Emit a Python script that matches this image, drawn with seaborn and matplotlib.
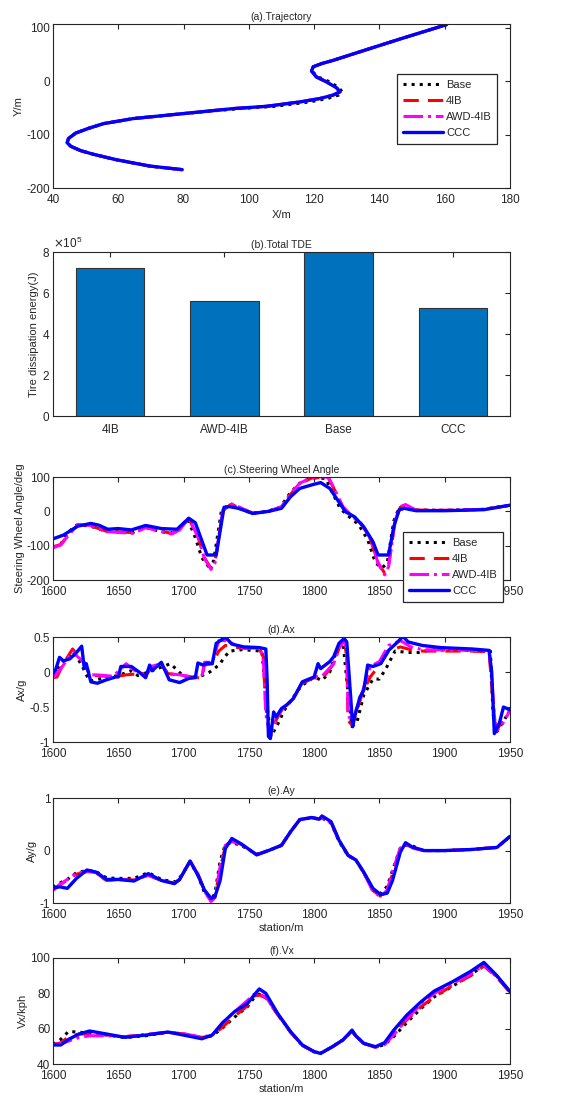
import matplotlib
matplotlib.use('Agg')
import matplotlib.pyplot as plt
import seaborn as sns

sns.set_style('white')
plt.rcParams['font.family'] = ['Liberation Sans', 'DejaVu Sans']
plt.rcParams['text.color'] = '#262626'
plt.rcParams['axes.labelcolor'] = '#262626'
plt.rcParams['axes.unicode_minus'] = False

# ---------------- data ----------------
names = ['Base', '4IB', 'AWD-4IB', 'CCC']

# (a) trajectory
traj_y = [-165.6, -158.8, -147, -137, -130, -122, -115, -107, -97, -88, -79.4, -70, -63.8,
          -57.5, -51.3, -47, -38.8, -32.5, -26, -20, -12.5, -1.3, 8, 19, 27, 33, 39,
          59, 79, 106]
traj_x_ccc = [79.6, 69.6, 59.4, 52.5, 48.5, 45.5, 44.3, 44.8, 47, 51, 55.5, 64.5, 74.7,
              85, 95.2, 105.4, 115.6, 121.7, 125.8, 127.9, 126.9, 123.8, 120.7, 119.2,
              119.7, 122.3, 125.8, 136, 146.3, 160.6]
traj_x_base = [79.6, 69.6, 59.4, 52.5, 48.5, 45.5, 44.3, 44.8, 47, 51, 55.5, 64.5, 74.7,
               85.5, 97, 108, 118.5, 124, 127.5, 128.6, 127.6, 124.8, 121.2, 119.3,
               119.8, 122.3, 125.8, 136, 146.3, 160.6]

# (b) total tire dissipation energy
tde_cases = ['4IB', 'AWD-4IB', 'Base', 'CCC']
tde_values = [7.2e5, 5.6e5, 8.0e5, 5.25e5]

# (c) steering wheel angle
swa_s_ccc = [1600, 1608, 1619, 1629, 1635, 1642, 1650, 1660, 1671, 1683, 1695, 1704, 1709,
             1718, 1725, 1731, 1735, 1742, 1753, 1765, 1775, 1782, 1789, 1798, 1805, 1812,
             1818, 1824, 1831, 1838, 1845, 1849, 1857, 1861, 1865, 1869, 1878, 1900, 1930, 1950]
swa_ccc = [-80, -69, -43, -35, -40, -52, -50, -54, -41, -50, -52, -20, -33,
           -127, -127, 12, 14, 9, -6, 0, 9, 43, 67, 77, 84, 67,
           33, -1, -16, -45, -88, -127, -127, -45, 4, 9, 2, 2, 5, 18]
swa_s_awd = [1600, 1606, 1613, 1619, 1629, 1641, 1653, 1662, 1671, 1683, 1691, 1697, 1704,
             1711, 1716, 1721, 1724, 1730, 1736, 1742, 1753, 1765, 1775, 1782, 1789, 1798,
             1805, 1811, 1816, 1822, 1829, 1836, 1843, 1849, 1854, 1857, 1862, 1866, 1870,
             1878, 1900, 1930, 1950]
swa_awd = [-106, -98, -64, -38, -41, -59, -62, -64, -47, -59, -66, -54, -20,
           -74, -137, -169, -151, 4, 23, 14, -6, 0, 14, 52, 82, 99,
           101, 99, 62, 14, -14, -35, -79, -151, -185, -161, -25, 14, 20,
           4, 3, 6, 18]
swa_4ib = [-104, -96, -62, -40, -42, -58, -60, -62, -46, -58, -64, -52, -21,
           -72, -135, -166, -150, 2, 20, 13, -5, 0, 13, 50, 80, 97,
           99, 97, 60, 12, -15, -36, -80, -150, -180, -158, -28, 12, 17,
           4, 3, 6, 18]
swa_s_base = [1600, 1606, 1612, 1618, 1628, 1640, 1652, 1661, 1670, 1682, 1690, 1696, 1703,
              1709, 1714, 1719, 1723, 1729, 1735, 1741, 1752, 1764, 1774, 1781, 1788, 1797,
              1804, 1809, 1814, 1820, 1827, 1834, 1841, 1847, 1852, 1856, 1861, 1865, 1869,
              1877, 1900, 1930, 1950]
swa_base = [-104, -95, -60, -40, -42, -57, -60, -62, -46, -58, -64, -52, -22,
            -76, -135, -160, -145, 2, 20, 12, -5, 0, 12, 50, 80, 97,
            98, 95, 55, 8, -16, -38, -82, -150, -165, -150, -28, 10, 16,
            4, 3, 6, 18]

# (d) longitudinal acceleration
ax_s_ccc = [1600, 1602, 1605, 1608, 1613, 1618, 1622, 1624, 1625.5, 1629, 1634, 1641, 1648,
            1650, 1652, 1660, 1666, 1671, 1674, 1676, 1683, 1689, 1697, 1704, 1709, 1711,
            1715, 1718, 1722, 1725, 1732, 1737, 1746, 1758, 1763, 1764, 1765, 1766.5, 1769,
            1771, 1775, 1779, 1784, 1791, 1800, 1803, 1805, 1812, 1815, 1819, 1823, 1825,
            1828, 1829.5, 1831, 1835, 1838, 1841, 1845, 1851, 1857, 1864, 1868, 1872, 1883,
            1897, 1921, 1934, 1936, 1938, 1942, 1945, 1950]
ax_ccc = [-0.02, 0.03, 0.21, 0.16, 0.19, 0.28, 0.37, 0.05, 0.12, -0.14, -0.16, -0.11, -0.07,
          -0.07, 0.08, 0.08, 0.0, -0.08, 0.1, 0.02, 0.14, -0.11, -0.15, -0.09, -0.08, 0.13,
          0.1, 0.13, 0.12, 0.41, 0.5, 0.4, 0.36, 0.35, 0.33, -0.11, -0.92, -0.95, -0.57,
          -0.64, -0.52, -0.47, -0.38, -0.14, -0.07, 0.12, 0.05, 0.15, 0.22, 0.41, 0.48, 0.43,
          -0.36, -0.78, -0.64, -0.36, -0.26, 0.1, 0.08, 0.12, 0.31, 0.43, 0.51, 0.43, 0.38,
          0.35, 0.33, 0.31, 0.0, -0.88, -0.72, -0.5, -0.54]
ax_s_4ib = [1600, 1603, 1608, 1615, 1620, 1625, 1628, 1634, 1646, 1656, 1662, 1671, 1675,
            1683, 1688, 1697, 1707, 1714, 1716, 1722, 1727, 1732, 1745, 1758, 1761, 1763,
            1766, 1769, 1771, 1775, 1784, 1791, 1800, 1806, 1815, 1819, 1823, 1825, 1826,
            1829, 1832, 1837, 1843, 1850, 1857, 1866, 1874, 1883, 1920, 1934, 1936, 1939,
            1944, 1950]
ax_4ib = [-0.08, -0.07, 0.12, 0.33, 0.22, 0.1, -0.05, -0.05, -0.07, -0.04, -0.03, -0.05, 0.05,
          0.1, -0.02, -0.05, -0.07, -0.09, 0.1, 0.12, 0.3, 0.38, 0.34, 0.34, 0.22, -0.5,
          -0.88, -0.82, -0.68, -0.55, -0.38, -0.16, -0.08, -0.1, 0.12, 0.34, 0.45, 0.22, -0.69,
          -0.76, -0.6, -0.3, -0.07, 0.1, 0.3, 0.36, 0.32, 0.3, 0.3, 0.29, -0.2, -0.86,
          -0.7, -0.55]
ax_awd = [-0.08, -0.02, 0.1, 0.29, 0.2, 0.12, -0.04, -0.04, -0.06, 0.12, 0.03, -0.04, 0.08,
          0.12, -0.02, -0.04, -0.07, -0.07, 0.14, 0.14, 0.45, 0.45, 0.35, 0.34, 0.22, -0.6,
          -0.9, -0.8, -0.66, -0.54, -0.38, -0.14, -0.07, -0.06, 0.12, 0.34, 0.48, 0.25, -0.6,
          -0.74, -0.55, -0.28, 0.08, 0.15, 0.38, 0.45, 0.36, 0.32, 0.31, 0.3, -0.1, -0.85,
          -0.75, -0.55]
ax_s_base = [1600, 1608, 1616, 1622, 1628, 1640, 1650, 1660, 1665, 1673, 1690, 1700, 1712,
             1720, 1727, 1735, 1745, 1760, 1764, 1767, 1772, 1777, 1790, 1800, 1806, 1812,
             1818, 1822, 1826, 1829, 1833, 1838, 1845, 1850, 1855, 1862, 1872, 1880, 1890,
             1935, 1937, 1940, 1950]
ax_base = [-0.05, 0.15, 0.28, 0.1, -0.13, -0.08, -0.05, 0.02, -0.05, 0.0, 0.12, -0.06, -0.07,
           0.0, 0.1, 0.3, 0.32, 0.3, -0.5, -0.92, -0.75, -0.55, -0.2, -0.07, -0.12, 0.0,
           0.35, 0.45, -0.3, -0.78, -0.7, -0.33, -0.1, -0.1, 0.05, 0.3, 0.28, 0.28, 0.32,
           0.3, -0.6, -0.85, -0.55]

# (e) lateral acceleration
ay_s = [1600, 1605, 1611, 1618, 1626, 1633, 1641, 1650, 1662, 1673, 1683, 1693, 1697, 1705,
        1711, 1716, 1721, 1724, 1728, 1732, 1737, 1744, 1756, 1765, 1775, 1782, 1789, 1798,
        1804, 1806, 1813, 1819, 1826, 1832, 1838, 1845, 1851, 1856, 1860, 1866, 1870, 1875,
        1884, 1900, 1920, 1940, 1950]
ay_ccc = [-0.72, -0.69, -0.72, -0.53, -0.37, -0.41, -0.55, -0.55, -0.58, -0.44, -0.57, -0.63,
          -0.55, -0.2, -0.47, -0.75, -0.91, -0.88, -0.57, 0.04, 0.23, 0.13, -0.08, 0.0, 0.1,
          0.36, 0.59, 0.63, 0.6, 0.66, 0.55, 0.2, -0.09, -0.18, -0.41, -0.72, -0.84, -0.81,
          -0.57, -0.03, 0.15, 0.07, 0.0, 0.0, 0.02, 0.06, 0.27]
ay_4ib = [-0.74, -0.66, -0.56, -0.45, -0.4, -0.42, -0.57, -0.55, -0.56, -0.47, -0.57, -0.62,
          -0.55, -0.2, -0.45, -0.75, -0.95, -0.88, -0.35, 0.08, 0.18, 0.12, -0.08, 0.0, 0.1,
          0.36, 0.59, 0.63, 0.6, 0.63, 0.53, 0.2, -0.09, -0.18, -0.42, -0.76, -0.87, -0.76,
          -0.45, 0.03, 0.12, 0.06, 0.0, 0.0, 0.02, 0.06, 0.27]
ay_awd = [-0.76, -0.65, -0.55, -0.43, -0.4, -0.42, -0.58, -0.55, -0.56, -0.47, -0.57, -0.62,
          -0.55, -0.2, -0.45, -0.77, -0.97, -0.9, -0.3, 0.1, 0.17, 0.12, -0.08, 0.0, 0.1,
          0.36, 0.59, 0.63, 0.6, 0.63, 0.53, 0.2, -0.09, -0.18, -0.42, -0.78, -0.88, -0.75,
          -0.4, 0.05, 0.12, 0.05, 0.0, 0.0, 0.02, 0.06, 0.27]
ay_base = [-0.7, -0.62, -0.55, -0.42, -0.38, -0.4, -0.52, -0.53, -0.53, -0.42, -0.55, -0.6,
           -0.52, -0.22, -0.47, -0.8, -0.93, -0.82, -0.2, 0.12, 0.15, 0.1, -0.07, 0.0, 0.1,
           0.36, 0.59, 0.62, 0.6, 0.62, 0.52, 0.18, -0.1, -0.18, -0.42, -0.74, -0.82, -0.68,
           -0.38, 0.05, 0.1, 0.09, 0.0, 0.0, 0.02, 0.06, 0.27]

# (f) longitudinal speed
vx_s = [1600, 1606, 1612, 1620, 1628, 1641, 1655, 1671, 1688, 1700, 1714, 1722, 1730, 1739,
        1749, 1754, 1758, 1763, 1772, 1782, 1791, 1800, 1805, 1814, 1822, 1825, 1829, 1832,
        1838, 1847, 1854, 1861, 1871, 1882, 1892, 1906, 1920, 1930, 1940, 1950]
vx_ccc = [50.8, 50.8, 54, 57, 58.7, 57, 55.1, 56.4, 58.1, 56.4, 54.3, 56.4, 63.4, 69.6,
          74.3, 79, 82.5, 80, 68.7, 58.3, 50.8, 47, 46, 49.8, 53.6, 55.9, 59.2, 55.9,
          51.7, 49.8, 52.1, 59.2, 67.7, 75.3, 81.3, 86.6, 92.5, 97.5, 90, 81]
vx_4ib = [51, 52, 55.5, 57, 57, 56.5, 55.5, 56.5, 58, 57, 55, 56, 61, 67,
          73, 78.5, 79, 77.5, 68, 58, 50.5, 47, 46.2, 49.8, 53.6, 55.9, 58.5, 55.9,
          51.7, 49.5, 51.5, 57.5, 65, 72.5, 78, 84.5, 90, 95.5, 89, 80.5]
vx_awd = [51, 51.5, 53, 55, 56, 56, 55.5, 56.8, 58, 57.2, 55.2, 56.5, 63.5, 69.5,
          76, 79.5, 79.5, 78, 68.5, 58, 50.5, 47, 46.2, 49.8, 53.6, 55.9, 58.5, 55.9,
          51.7, 49.5, 51, 56.5, 65.5, 74, 80, 85.5, 91, 96, 89.5, 81]
vx_base = [51, 54, 58.5, 58, 57.5, 56.5, 55, 56, 58, 57, 55, 56, 60.5, 66.5,
           72.5, 77.5, 79.5, 78, 68.5, 58, 50.5, 47, 46.2, 49.8, 53.6, 55.9, 58.5, 55.9,
           51.7, 49.5, 51, 55.5, 63.5, 71.5, 78, 84, 90.5, 96, 89.5, 81]

# ---------------- styles ----------------
styles = {
    'Base': dict(color='black', linestyle=':', lw=2.2),
    '4IB': dict(color='red', linestyle=(0, (5, 3)), lw=2.2),
    'AWD-4IB': dict(color='magenta', linestyle='-.', lw=2.2),
    'CCC': dict(color='#0000ff', linestyle='-', lw=2.4),
}
edge = '#262626'


def style_axes(ax):
    ax.tick_params(direction='in', top=True, right=True, length=3.5, width=0.8,
                   labelsize=8.5, colors=edge, pad=2)
    ax.tick_params(axis='x', pad=4)
    for sp in ax.spines.values():
        sp.set_color(edge)
        sp.set_linewidth(0.8)


def draw_lines(ax, series):
    for name, xs, ys in series:
        sns.lineplot(x=xs, y=ys, ax=ax, sort=False, estimator=None, label=name,
                     **styles[name])
    if ax.get_legend() is not None:
        ax.get_legend().remove()


def add_legend(ax, anchor):
    leg = ax.legend(loc='upper left', bbox_to_anchor=anchor, fontsize=8,
                    handlelength=3.6, handletextpad=0.3, labelspacing=0.55,
                    borderpad=0.5, borderaxespad=0, frameon=True, fancybox=False,
                    framealpha=1)
    leg.get_frame().set_edgecolor(edge)
    leg.get_frame().set_linewidth(0.9)


fig = plt.figure(figsize=(5.69, 10.99), dpi=100)
left, width = 0.0931, 0.8032
rects = {
    'a': [left, 0.8289, width, 0.1492],
    'b': [left, 0.6215, width, 0.1492],
    'c': [left, 0.4722, width, 0.0937],
    'd': [left, 0.3248, width, 0.0955],
    'e': [left, 0.1783, width, 0.0955],
    'f': [left, 0.0318, width, 0.0965],
}
title_kw = dict(fontsize=7.5, pad=3)
label_fs = 8

# (a)
ax = fig.add_axes(rects['a'])
draw_lines(ax, [('Base', traj_x_base, traj_y), ('4IB', traj_x_ccc, traj_y),
                ('AWD-4IB', traj_x_ccc, traj_y), ('CCC', traj_x_ccc, traj_y)])
ax.set_xlim(40, 180)
ax.set_ylim(-200, 107)
ax.set_xticks(range(40, 181, 20))
ax.set_yticks([-200, -100, 0, 100])
ax.set_xlabel('X/m', fontsize=label_fs, labelpad=3)
ax.set_ylabel('Y/m', fontsize=label_fs, labelpad=2)
ax.set_title('(a).Trajectory', **title_kw)
style_axes(ax)
add_legend(ax, (0.753, 0.695))

# (b)
ax = fig.add_axes(rects['b'])
sns.barplot(x=tde_cases, y=tde_values, ax=ax, color='#0072BD', saturation=1,
            width=0.6, edgecolor='#333333', linewidth=0.8)
ax.set_xlim(-0.5, 3.5)
ax.set_ylim(0, 8e5)
ax.set_yticks([0, 2e5, 4e5, 6e5, 8e5])
ax.ticklabel_format(axis='y', style='sci', scilimits=(5, 5), useMathText=True)
ax.yaxis.get_offset_text().set_fontsize(8.5)
ax.set_ylabel('Tire dissipation energy(J)', fontsize=label_fs, labelpad=2)
ax.set_title('(b).Total TDE', **title_kw)
style_axes(ax)
ax.tick_params(axis='x', pad=6)

# (c)
ax = fig.add_axes(rects['c'])
draw_lines(ax, [('Base', swa_s_base, swa_base), ('4IB', swa_s_awd, swa_4ib),
                ('AWD-4IB', swa_s_awd, swa_awd), ('CCC', swa_s_ccc, swa_ccc)])
ax.set_xlim(1600, 1950)
ax.set_ylim(-200, 100)
ax.set_yticks([-200, -100, 0, 100])
ax.set_ylabel('Steering Wheel Angle/deg', fontsize=label_fs, labelpad=1)
ax.set_title('(c).Steering Wheel Angle', **title_kw)
style_axes(ax)
add_legend(ax, (0.766, 0.466))

# (d)
ax = fig.add_axes(rects['d'])
draw_lines(ax, [('Base', ax_s_base, ax_base), ('4IB', ax_s_4ib, ax_4ib),
                ('AWD-4IB', ax_s_4ib, ax_awd), ('CCC', ax_s_ccc, ax_ccc)])
ax.set_xlim(1600, 1950)
ax.set_ylim(-1, 0.5)
ax.set_yticks([-1, -0.5, 0, 0.5])
ax.set_yticklabels(['-1', '-0.5', '0', '0.5'])
ax.set_ylabel('Ax/g', fontsize=label_fs, labelpad=2)
ax.set_title('(d).Ax', **title_kw)
style_axes(ax)

# (e)
ax = fig.add_axes(rects['e'])
draw_lines(ax, [('Base', ay_s, ay_base), ('4IB', ay_s, ay_4ib),
                ('AWD-4IB', ay_s, ay_awd), ('CCC', ay_s, ay_ccc)])
ax.set_xlim(1600, 1950)
ax.set_ylim(-1, 1)
ax.set_yticks([-1, 0, 1])
ax.set_xlabel('station/m', fontsize=label_fs, labelpad=2)
ax.set_ylabel('Ay/g', fontsize=label_fs, labelpad=2)
ax.set_title('(e).Ay', **title_kw)
style_axes(ax)

# (f)
ax = fig.add_axes(rects['f'])
draw_lines(ax, [('Base', vx_s, vx_base), ('4IB', vx_s, vx_4ib),
                ('AWD-4IB', vx_s, vx_awd), ('CCC', vx_s, vx_ccc)])
ax.set_xlim(1600, 1950)
ax.set_ylim(40, 100)
ax.set_yticks([40, 60, 80, 100])
ax.set_xlabel('station/m', fontsize=label_fs, labelpad=2)
ax.set_ylabel('Vx/kph', fontsize=label_fs, labelpad=2)
ax.set_title('(f).Vx', **title_kw)
style_axes(ax)

fig.savefig('out.png', dpi=100)
